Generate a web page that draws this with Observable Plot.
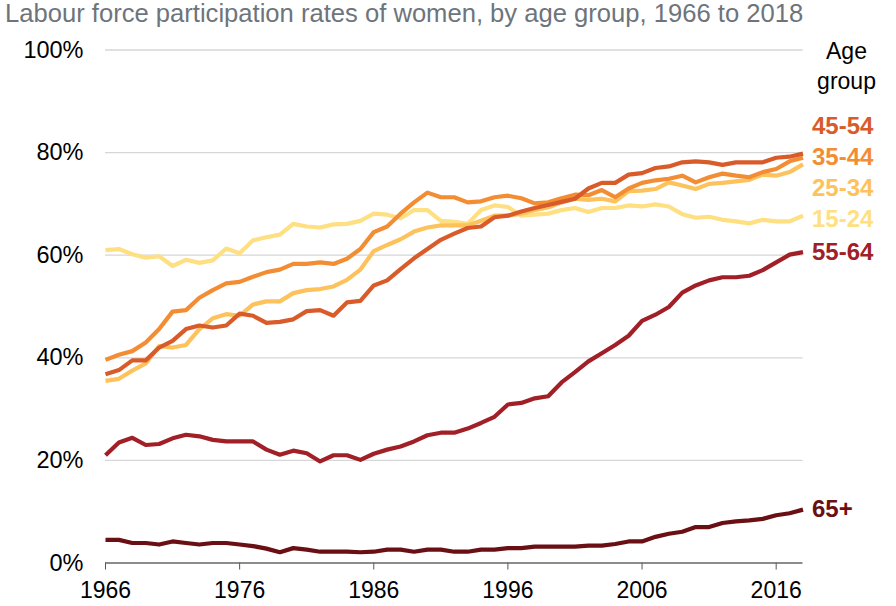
<!DOCTYPE html>
<html><head><meta charset="utf-8">
<script src="https://cdn.jsdelivr.net/npm/d3@7"></script>
<script src="https://cdn.jsdelivr.net/npm/@observablehq/plot@0.6"></script>
<style>
body{margin:0;background:#fff;font-family:"Liberation Sans",Arial,sans-serif;}
#wrap{position:relative;width:896px;height:606px;overflow:hidden;}
#wrap svg{position:absolute;left:0;top:0;}
#title{position:absolute;left:5px;top:1px;font-size:25.6px;line-height:25px;color:#6e747b;white-space:nowrap;z-index:2;}
</style></head><body><div id="wrap"><div id="title">Labour force participation rates of women, by age group, 1966 to 2018</div></div>
<script>
const years = d3.range(1966, 2019);
const xTicks = [1966, 1976, 1986, 1996, 2006, 2016];
const yTicks = [0, 20, 40, 60, 80, 100];
const groups = ["15-24", "25-34", "35-44", "45-54", "55-64", "65+"];
const colors = ["#fedf82", "#fdc25c", "#f38d33", "#d85b29", "#a11f26", "#6a0f14"];

const age15_24 = [61.0,61.2,60.2,59.5,59.8,57.9,59.1,58.5,59.0,61.3,60.4,62.9,63.5,64.0,66.1,65.6,65.4,66.0,66.1,66.7,68.1,67.9,67.2,68.8,68.8,66.7,66.5,66.1,68.8,69.7,69.4,67.7,67.9,68.1,68.8,69.2,68.4,69.2,69.2,69.7,69.5,69.9,69.5,68.0,67.3,67.5,66.9,66.6,66.2,66.9,66.6,66.6,67.7];
const age25_34 = [35.5,35.9,37.5,38.9,42.3,42.0,42.5,45.6,47.7,48.5,48.2,50.4,51.0,51.0,52.6,53.2,53.4,53.9,55.2,57.2,60.8,62.0,63.1,64.6,65.4,65.8,65.8,65.8,66.7,67.7,67.7,68.1,68.8,69.3,70.3,71.0,70.8,71.0,70.5,72.5,72.6,72.9,74.2,73.6,72.9,73.9,74.1,74.4,74.7,75.7,75.5,76.2,77.7];
const age35_44 = [39.6,40.6,41.3,43.0,45.6,49.0,49.3,51.7,53.2,54.5,54.8,55.8,56.7,57.2,58.3,58.3,58.6,58.3,59.3,61.2,64.5,65.6,68.1,70.3,72.2,71.3,71.3,70.3,70.5,71.3,71.6,71.1,70.1,70.3,71.1,71.8,71.7,72.7,71.3,73.0,74.1,74.6,74.9,75.5,74.2,75.2,75.9,75.5,75.2,76.2,76.8,78.3,79.0];
const age45_54 = [36.8,37.6,39.5,39.5,42.0,43.3,45.6,46.3,45.9,46.3,48.6,48.2,46.8,47.0,47.5,49.1,49.3,48.2,50.8,51.1,54.1,55.1,57.3,59.4,61.2,63.0,64.2,65.3,65.6,67.4,67.7,68.5,69.2,69.8,70.4,71.0,73.0,74.1,74.1,75.7,76.0,77.0,77.3,78.1,78.3,78.1,77.6,78.1,78.1,78.1,79.0,79.2,79.8];
const age55_64 = [21.0,23.5,24.4,23.0,23.2,24.3,25.0,24.7,24.0,23.7,23.7,23.7,22.1,21.1,21.9,21.4,19.8,21.0,21.0,20.1,21.3,22.1,22.7,23.7,24.9,25.4,25.4,26.2,27.3,28.5,30.9,31.2,32.1,32.5,35.2,37.2,39.3,40.9,42.5,44.3,47.2,48.4,49.9,52.7,54.1,55.1,55.7,55.7,56.0,57.1,58.6,60.1,60.6];
const age65plus = [4.5,4.5,3.9,3.9,3.6,4.2,3.9,3.6,3.9,3.9,3.6,3.3,2.8,2.1,2.9,2.6,2.2,2.2,2.2,2.1,2.2,2.6,2.6,2.2,2.6,2.6,2.2,2.2,2.6,2.6,2.9,2.9,3.2,3.2,3.2,3.2,3.4,3.4,3.7,4.2,4.2,5.1,5.7,6.1,7.0,7.0,7.8,8.1,8.3,8.6,9.3,9.7,10.4];

const seriesByGroup = {"15-24": age15_24, "25-34": age25_34, "35-44": age35_44, "45-54": age45_54, "55-64": age55_64, "65+": age65plus};
const data = groups.flatMap(g => years.map((yr, i) => ({year: yr, group: g, value: seriesByGroup[g][i]})));

// end labels, spread apart so they do not overlap
const lastYear = years[years.length - 1];
const labels = groups.map(g => ({group: g, year: lastYear, v: seriesByGroup[g][years.length - 1]}));
labels.forEach(d => d.ly = d.v);
const sorted = labels.slice().sort((a, b) => a.ly - b.ly);
const minGap = 6.0;
for (let it = 0; it < 500; it++) {
  for (let i = 1; i < sorted.length; i++) {
    const gap = sorted[i].ly - sorted[i - 1].ly;
    if (gap < minGap) {
      const push = (minGap - gap) / 2;
      sorted[i].ly += push;
      sorted[i - 1].ly -= push;
    }
  }
}

const chart = Plot.plot({
  width: 896,
  height: 606,
  marginTop: 49.5,
  marginBottom: 43.5,
  marginLeft: 105,
  marginRight: 93.5,
  x: {domain: [1966, 2018], label: null},
  y: {domain: [0, 100], label: null},
  color: {domain: groups, range: colors},
  style: {fontFamily: '"Liberation Sans", Arial, sans-serif', fontSize: "23px", color: "#000", background: "transparent", overflow: "visible"},
  marks: [
    Plot.gridY(yTicks.filter(d => d > 0), {stroke: "#d6d6d6", strokeOpacity: 1, strokeWidth: 1.3}),
    Plot.axisY({ticks: yTicks, tickSize: 0, tickPadding: 22, tickFormat: d => d + "%", label: null, fontSize: 23.5}),
    Plot.axisX({ticks: xTicks, tickSize: 7, tickPadding: 12, tickFormat: d => String(d), stroke: "#555", label: null, fontSize: 23}),
    Plot.ruleY([0], {stroke: "#666", strokeWidth: 1.5}),
    Plot.line(data, {x: "year", y: "value", z: "group", stroke: "group", strokeWidth: 4.2, strokeLinejoin: "round", strokeLinecap: "butt"}),
    Plot.text(labels, {x: "year", y: "ly", text: "group", fill: "group", textAnchor: "start", dx: 9, dy: 0, fontWeight: "bold", fontSize: 24}),
    Plot.text(["Age\ngroup"], {frameAnchor: "top-right", dx: 43.5, dy: 14.5, textAnchor: "middle", lineAnchor: "middle", lineHeight: 1.3, fontSize: 23, fill: "#000"})
  ]
});
document.getElementById("wrap").appendChild(chart);
</script>
</body></html>
